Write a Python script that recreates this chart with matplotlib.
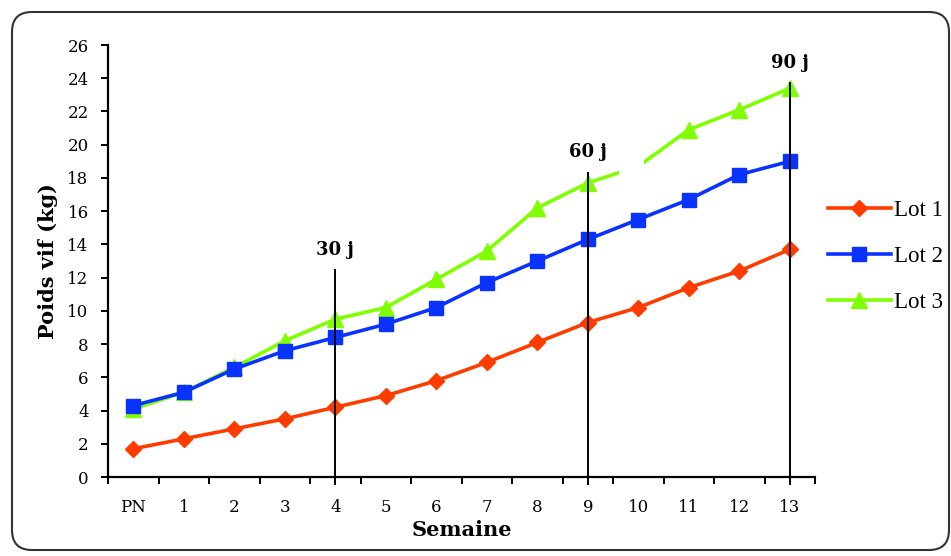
"""Poids vif des lots 1-3 par semaine (PN -> 13), repères 30/60/90 j."""
import numpy as np
import matplotlib
matplotlib.use("Agg")
import matplotlib.pyplot as plt
from matplotlib.patches import FancyBboxPatch, Rectangle

weeks = ["PN", "1", "2", "3", "4", "5", "6", "7", "8", "9", "10", "11", "12", "13"]
lot1 = [1.7, 2.3, 2.9, 3.5, 4.2, 4.9, 5.8, 6.9, 8.1, 9.3, 10.2, 11.4, 12.4, 13.7]
lot2 = [4.3, 5.1, 6.5, 7.6, 8.4, 9.2, 10.2, 11.7, 13.0, 14.3, 15.5, 16.7, 18.2, 19.0]
lot3 = [4.1, 5.1, 6.6, 8.2, 9.5, 10.2, 11.9, 13.6, 16.2, 17.7, 18.7, 20.9, 22.1, 23.4]
marks = [4, 9, 13]
mark_labels = ["30 j", "60 j", "90 j"]
mark_tops = [12.45, 18.3, 23.7]

SERIF = ["DejaVu Serif"]
TIMES = ["Liberation Serif", "DejaVu Serif"]
plt.rcParams["font.family"] = SERIF

fig = plt.figure(figsize=(9.51, 5.56), dpi=100)
ax = fig.add_axes([0.1136, 0.142, 0.7434, 0.777])

x = np.arange(len(weeks))
ax.plot(x, lot1, color="#ff3c00", lw=2.6, marker="D", ms=8, label="Lot 1", zorder=3)
ax.plot(x, lot2, color="#0a32ff", lw=2.6, marker="s", ms=10, label="Lot 2", zorder=3)
ax.plot(x, lot3, color="#7fff00", lw=2.6, marker="^", ms=11, label="Lot 3",
        markevery=[i for i in range(len(weeks)) if i != 10], zorder=2)
# white gap in the Lot 3 curve near week 10 (as in the original)
ax.add_patch(Rectangle((9.62, 17.9), 0.5, 1.5, facecolor="white", edgecolor="none", zorder=2.5))

for m, lab, top in zip(marks, mark_labels, mark_tops):
    ax.plot([m, m], [-0.4, top], color="black", lw=1.4, clip_on=False, zorder=4)
    ax.text(m, top + 0.7, lab, ha="center", va="bottom", fontsize=13, fontweight="bold")

ax.set_xlim(-0.5, 13.5)
ax.set_ylim(0, 26)
ax.set_yticks(np.arange(0, 27, 2))
ax.set_xticks(x)
ax.set_xticklabels(weeks)
ax.set_xticks(np.arange(-0.5, 14, 1), minor=True)
ax.tick_params(axis="x", which="major", length=0, pad=16, labelsize=12)
ax.tick_params(axis="x", which="minor", length=5, width=1.4, direction="out")
ax.tick_params(axis="y", length=5, width=1.4, direction="out", labelsize=12, pad=9)
for s in ["top", "right"]:
    ax.spines[s].set_visible(False)
for s in ["left", "bottom"]:
    ax.spines[s].set_linewidth(1.6)

ax.set_xlabel("Semaine", fontsize=15, fontweight="bold")
ax.xaxis.set_label_coords(0.5, -0.1)
ax.set_ylabel("Poids vif (kg)", fontsize=15, fontweight="bold", labelpad=7)

ax.legend(loc="center left", bbox_to_anchor=(1.005, 0.51), frameon=False,
          prop={"family": TIMES, "size": 16.5}, handlelength=2.75, labelspacing=1.1,
          handletextpad=0.15, borderaxespad=0)

frame = FancyBboxPatch((0.12, 0.06), 9.37, 5.38, boxstyle="round,pad=0,rounding_size=0.2",
                       transform=fig.dpi_scale_trans, facecolor="none",
                       edgecolor="#333333", lw=1.5)
fig.add_artist(frame)

fig.savefig("out.png", dpi=100)
